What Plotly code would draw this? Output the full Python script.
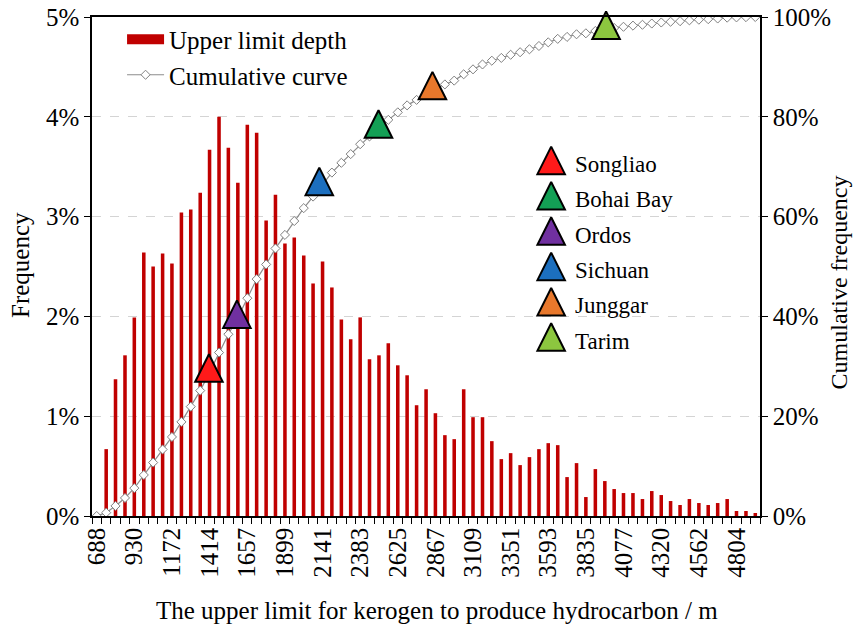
import plotly.graph_objects as go

# ---------------- data ----------------
depth_bins = [688, 749, 809, 870, 930, 991, 1051, 1112, 1172, 1233, 1293, 1354, 1414, 1475,
              1535, 1596, 1657, 1717, 1778, 1838, 1899, 1959, 2020, 2080, 2141, 2201, 2262,
              2322, 2383, 2443, 2504, 2564, 2625, 2685, 2746, 2807, 2867, 2928, 2988, 3049,
              3109, 3170, 3230, 3291, 3351, 3412, 3472, 3533, 3593, 3654, 3714, 3775, 3835,
              3896, 3957, 4017, 4077, 4138, 4199, 4259, 4320, 4380, 4441, 4501, 4562, 4622,
              4683, 4744, 4804, 4865, 4925]

frequency_pct = [0.00, 0.67, 1.37, 1.61, 1.99, 2.64, 2.50, 2.63, 2.53, 3.04, 3.07, 3.24, 3.67,
                 4.00, 3.69, 3.34, 3.92, 3.84, 2.96, 3.22, 2.73, 2.79, 2.61, 2.33, 2.55, 2.29,
                 1.97, 1.77, 1.99, 1.57, 1.61, 1.73, 1.51, 1.41, 1.11, 1.27, 1.03, 0.81, 0.77,
                 1.27, 0.99, 0.99, 0.75, 0.57, 0.63, 0.51, 0.59, 0.67, 0.73, 0.71, 0.39, 0.53,
                 0.19, 0.47, 0.35, 0.27, 0.23, 0.23, 0.17, 0.25, 0.21, 0.15, 0.11, 0.17, 0.13,
                 0.11, 0.13, 0.17, 0.05, 0.05, 0.03]

cumulative_pct = [0.00, 0.67, 2.02, 3.62, 5.59, 8.22, 10.71, 13.33, 15.84, 18.86, 21.91, 25.13,
                  28.78, 32.76, 36.42, 39.75, 43.65, 47.47, 50.41, 53.62, 56.33, 59.11, 61.70,
                  64.01, 66.54, 68.82, 70.78, 72.53, 74.51, 76.07, 77.67, 79.39, 80.89, 82.29,
                  83.39, 84.66, 85.68, 86.49, 87.25, 88.52, 89.51, 90.49, 91.24, 91.80, 92.43,
                  92.94, 93.53, 94.19, 94.92, 95.62, 96.01, 96.54, 96.73, 97.20, 97.54, 97.81,
                  98.04, 98.27, 98.44, 98.69, 98.90, 99.05, 99.16, 99.33, 99.46, 99.57, 99.70,
                  99.87, 99.92, 99.97, 100.00]

tick_labels = [688, 930, 1172, 1414, 1657, 1899, 2141, 2383, 2625, 2867, 3109, 3351, 3593,
               3835, 4077, 4320, 4562, 4804]

basin_names = ["Songliao", "Bohai Bay", "Ordos", "Sichuan", "Junggar", "Tarim"]
basin_depth = [1410, 2501, 1590, 2120, 2848, 3965]
basin_cum = [28.8, 77.7, 39.6, 66.2, 85.4, 97.5]
basin_colors = ["#ff1a1a", "#13a055", "#7030a0", "#1c6fbf", "#e8782c", "#8cc63f"]

# ---------------- style ----------------
FONT = "Liberation Serif"
BAR_COLOR = "#c00000"
step = (depth_bins[-1] - depth_bins[0]) / (len(depth_bins) - 1)
x_lo = depth_bins[0] - step / 2
x_hi = depth_bins[-1] + step / 2

# upward triangle whose apex sits 2/3 of its height above the point
TRI = dict(symbol="arrow-down", angle=180, size=27.5, standoff=18,
           line=dict(color="black", width=2))

fig = go.Figure()

fig.add_trace(go.Bar(
    x=depth_bins, y=frequency_pct, name="Upper limit depth",
    marker=dict(color=BAR_COLOR, line=dict(width=0)),
    yaxis="y", xaxis="x", legendgroup="a", showlegend=False,
))
# legend key for the bars (wide red block, as in the original figure)
fig.add_trace(go.Scatter(
    x=[None], y=[None], mode="lines", name="Upper limit depth",
    line=dict(color=BAR_COLOR, width=12), legendgroup="a", hoverinfo="skip",
))

fig.add_trace(go.Scatter(
    x=depth_bins, y=cumulative_pct, name="Cumulative curve",
    mode="lines+markers", yaxis="y2", xaxis="x", legendgroup="b",
    line=dict(color="#8c8c8c", width=1.2),
    marker=dict(symbol="diamond", size=7, color="white",
                line=dict(color="#808080", width=1)),
))

for name, d, c, col in zip(basin_names, basin_depth, basin_cum, basin_colors):
    fig.add_trace(go.Scatter(
        x=[d], y=[c], mode="markers", yaxis="y2", xaxis="x", showlegend=False,
        name=name, cliponaxis=False,
        marker=dict(color=col, **TRI),
    ))

# basin legend, drawn on a hidden overlay axis in paper-like coordinates
leg_x = 0.6874
leg_y0 = 0.7041
leg_gap = 0.0708
for k, (name, col) in enumerate(zip(basin_names, basin_colors)):
    yy = leg_y0 - k * leg_gap
    fig.add_trace(go.Scatter(
        x=[leg_x], y=[yy], mode="markers", xaxis="x3", yaxis="y3", showlegend=False,
        hoverinfo="skip", cliponaxis=False,
        marker=dict(color=col, **TRI),
    ))
    fig.add_annotation(x=0.7205, y=yy, xref="paper", yref="paper", text=name,
                       showarrow=False, xanchor="left", yanchor="middle",
                       font=dict(family=FONT, size=23, color="black"))

fig.update_layout(
    width=856, height=633,
    margin=dict(l=92, r=96, t=17, b=117, autoexpand=False),
    paper_bgcolor="white", plot_bgcolor="white",
    font=dict(family=FONT, size=25, color="black"),
    bargap=0.62,
    showlegend=True,
    legend=dict(x=0.045, y=1.001, xanchor="left", yanchor="top",
                bgcolor="rgba(0,0,0,0)", font=dict(family=FONT, size=25),
                itemwidth=37, tracegroupgap=0, traceorder="grouped"),
    xaxis=dict(
        range=[x_lo, x_hi], tickmode="array", tickvals=tick_labels,
        ticktext=[str(v) for v in tick_labels], tickangle=-90, ticks="",
        showline=True, linecolor="black", linewidth=1.5, mirror=True,
        showgrid=False, zeroline=False, tickfont=dict(size=25),
        minor=dict(tickmode="linear", tick0=x_lo, dtick=step, ticks="outside",
                   ticklen=6, tickcolor="black", tickwidth=1, showgrid=False),
    ),
    yaxis=dict(
        range=[0, 5], tickmode="linear", tick0=0, dtick=1, ticksuffix="%",
        ticks="outside", ticklen=6, tickcolor="black",
        showline=True, linecolor="black", linewidth=1.5,
        showgrid=True, gridcolor="#d4d4d4", griddash="dash", gridwidth=1,
        zeroline=False, tickfont=dict(size=25),
    ),
    yaxis2=dict(
        range=[0, 100], tickmode="linear", tick0=0, dtick=20, ticksuffix="%",
        overlaying="y", side="right", anchor="x",
        ticks="outside", ticklen=6, tickcolor="black",
        showline=True, linecolor="black", linewidth=1.5,
        showgrid=False, zeroline=False, tickfont=dict(size=25),
    ),
    xaxis3=dict(domain=[0, 1], range=[0, 1], overlaying="x", anchor="y3",
                visible=False, fixedrange=True),
    yaxis3=dict(domain=[0, 1], range=[0, 1], overlaying="y", anchor="x3",
                visible=False, fixedrange=True),
)

fig.add_annotation(x=0.517, y=-0.19, xref="paper", yref="paper",
                   text="The upper limit for kerogen to produce hydrocarbon / m",
                   showarrow=False, xanchor="center", yanchor="middle",
                   font=dict(family=FONT, size=25))
fig.add_annotation(x=-0.107, y=0.502, xref="paper", yref="paper", text="Frequency",
                   textangle=-90, showarrow=False, xanchor="center", yanchor="middle",
                   font=dict(family=FONT, size=25))
fig.add_annotation(x=1.1197, y=0.468, xref="paper", yref="paper", text="Cumulative frequency",
                   textangle=-90, showarrow=False, xanchor="center", yanchor="middle",
                   font=dict(family=FONT, size=24))

fig.write_html("out.html", config={"displayModeBar": False},
               post_script="document.body.style.margin='0';")
